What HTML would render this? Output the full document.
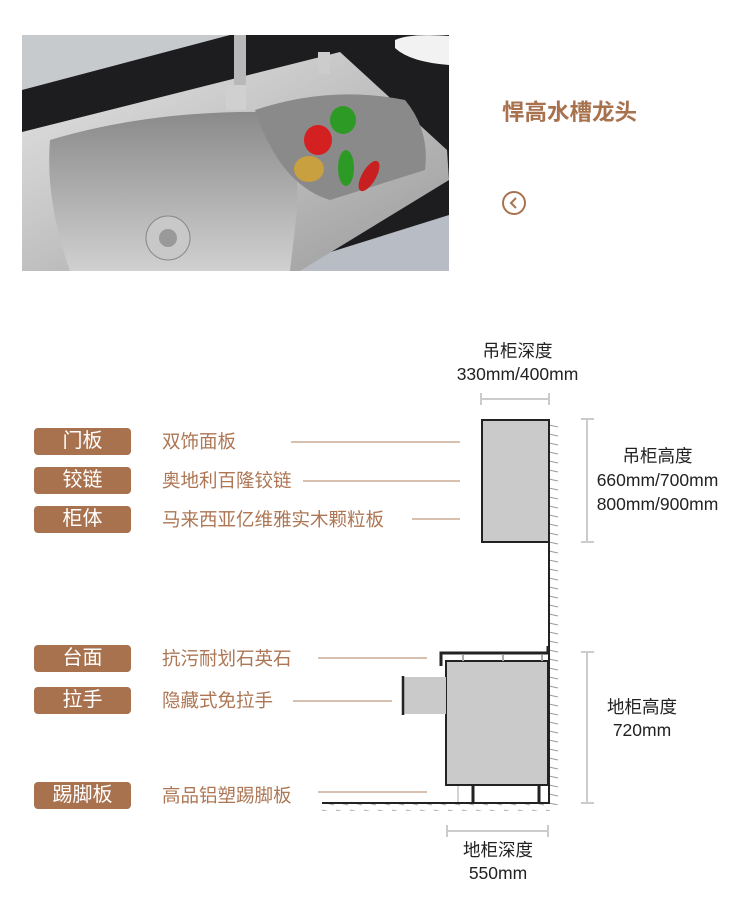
<!DOCTYPE html>
<html><head><meta charset="utf-8"><style>
html,body{margin:0;padding:0;background:#fff;}
body{width:750px;height:914px;overflow:hidden;position:relative;font-family:"Liberation Sans","Noto Sans CJK SC",sans-serif;}
.t{position:absolute;white-space:nowrap;}
.b{position:absolute;left:34px;width:97px;height:27px;background:#a8724f;border-radius:4px;color:#fff;font-size:20px;line-height:27px;text-align:center;}
.l{position:absolute;left:162px;color:#ad7654;font-size:18.5px;line-height:27px;}
.d{color:#222;font-size:17.5px;text-align:center;line-height:23px;}
</style></head><body>
<svg width="750" height="914" style="position:absolute;left:0;top:0">
<defs>
<linearGradient id="st" x1="0" y1="0" x2="1" y2="1"><stop offset="0" stop-color="#e6e6e6"/><stop offset="1" stop-color="#9a9a9a"/></linearGradient>
<linearGradient id="bw" x1="0" y1="0" x2="0" y2="1"><stop offset="0" stop-color="#8a8a8a"/><stop offset="1" stop-color="#d0d0d0"/></linearGradient>
<pattern id="h" width="9" height="9" patternUnits="userSpaceOnUse"><line x1="0" y1="2" x2="9" y2="4" stroke="#999" stroke-width="1"/></pattern>
<pattern id="hf" width="14" height="8" patternUnits="userSpaceOnUse"><line x1="0" y1="2" x2="12" y2="5" stroke="#aaa" stroke-width="1"/></pattern>
</defs>
<rect x="22" y="35" width="427" height="236" fill="#1d1d1f"/>
<polygon points="22,35 230,35 22,90" fill="#c6cacc"/>
<polygon points="270,271 449,215 449,271" fill="#b8bcc4"/>
<polygon points="22,132 340,52 447,150 449,180 300,271 22,271" fill="url(#st)"/>
<path d="M50,140 Q150,110 270,112 Q300,120 297,210 L290,271 L70,271 Q45,200 50,140Z" fill="url(#bw)"/>
<path d="M255,110 Q330,85 405,100 Q430,130 425,170 L330,200 Q280,185 255,110Z" fill="#8a8a8a"/>
<circle cx="168" cy="238" r="22" fill="#c8c8c8" stroke="#888"/>
<circle cx="168" cy="238" r="9" fill="#999"/>
<rect x="234" y="35" width="12" height="65" fill="#b8b8b8"/>
<rect x="226" y="85" width="20" height="25" fill="#d0d0d0"/>
<rect x="318" y="52" width="12" height="22" fill="#ccc"/>
<ellipse cx="318" cy="140" rx="14" ry="15" fill="#d42020"/>
<ellipse cx="343" cy="120" rx="13" ry="14" fill="#2d9a25"/>
<ellipse cx="309" cy="169" rx="15" ry="13" fill="#c9a040"/>
<ellipse cx="346" cy="168" rx="8" ry="18" fill="#2d9a25"/>
<ellipse cx="369" cy="176" rx="7" ry="17" fill="#c82020" transform="rotate(30 369 176)"/>
<path d="M395,40 Q410,33 449,36 L449,65 Q410,62 395,48Z" fill="#f2f2f2"/>
<circle cx="514" cy="203" r="11" fill="none" stroke="#a8724f" stroke-width="2"/>
<polyline points="516,198 511,203 516,208" fill="none" stroke="#a8724f" stroke-width="2"/>
<g stroke="#b08060" stroke-width="1">
<line x1="291" y1="442" x2="460" y2="442"/>
<line x1="303" y1="481" x2="460" y2="481"/>
<line x1="412" y1="519" x2="460" y2="519"/>
<line x1="318" y1="658" x2="427" y2="658"/>
<line x1="293" y1="701" x2="392" y2="701"/>
<line x1="318" y1="792" x2="427" y2="792"/>
</g>
<rect x="550" y="419" width="8" height="386" fill="url(#h)"/>
<rect x="320" y="804" width="230" height="7" fill="url(#hf)"/>
<rect x="482" y="420" width="67" height="122" fill="#cacaca" stroke="#222" stroke-width="2"/>
<line x1="549" y1="419" x2="549" y2="804" stroke="#222" stroke-width="2"/>
<rect x="446" y="661" width="102" height="124" fill="#cacaca" stroke="#222" stroke-width="2"/>
<rect x="402" y="677" width="44" height="37" fill="#cacaca"/>
<line x1="403" y1="676" x2="403" y2="715" stroke="#222" stroke-width="2.5"/>
<path d="M441,666 L441,653 L548,653 L548,646" fill="none" stroke="#222" stroke-width="3"/>
<g stroke="#aaa" stroke-width="2"><line x1="463" y1="655" x2="463" y2="661"/><line x1="503" y1="655" x2="503" y2="661"/><line x1="542" y1="655" x2="542" y2="661"/></g>
<line x1="322" y1="803" x2="550" y2="803" stroke="#222" stroke-width="2"/>
<g stroke="#222" stroke-width="3"><line x1="473" y1="786" x2="473" y2="802"/><line x1="539" y1="786" x2="539" y2="802"/></g>
<line x1="458" y1="786" x2="458" y2="802" stroke="#aaa" stroke-width="1"/>
<g stroke="#ccc" stroke-width="2" fill="none">
<path d="M481,393 L481,405 M481,399 L549,399 M549,393 L549,405"/>
<path d="M581,419 L594,419 M587,419 L587,542 M581,542 L594,542"/>
<path d="M581,652 L594,652 M587,652 L587,803 M581,803 L594,803"/>
<path d="M447,825 L447,837 M447,831 L548,831 M548,825 L548,837"/>
</g>
</svg>
<div class="t" style="left:502px;top:95px;font-size:22.5px;font-weight:bold;color:#a8724f;">悍高水槽龙头</div>
<div class="t d" style="left:440px;width:155px;top:340px;">吊柜深度<br>330mm/400mm</div>
<div class="t d" style="left:590px;width:135px;top:444px;line-height:24px;">吊柜高度<br>660mm/700mm<br>800mm/900mm</div>
<div class="t d" style="left:587px;width:110px;top:696px;">地柜高度<br>720mm</div>
<div class="t d" style="left:443px;width:110px;top:839px;">地柜深度<br>550mm</div>
<div class="b" style="top:428px">门板</div><div class="l" style="top:428px">双饰面板</div>
<div class="b" style="top:467px">铰链</div><div class="l" style="top:467px">奥地利百隆铰链</div>
<div class="b" style="top:506px">柜体</div><div class="l" style="top:506px">马来西亚亿维雅实木颗粒板</div>
<div class="b" style="top:645px">台面</div><div class="l" style="top:645px">抗污耐划石英石</div>
<div class="b" style="top:687px">拉手</div><div class="l" style="top:687px">隐藏式免拉手</div>
<div class="b" style="top:782px">踢脚板</div><div class="l" style="top:782px">高品铝塑踢脚板</div>
</body></html>
